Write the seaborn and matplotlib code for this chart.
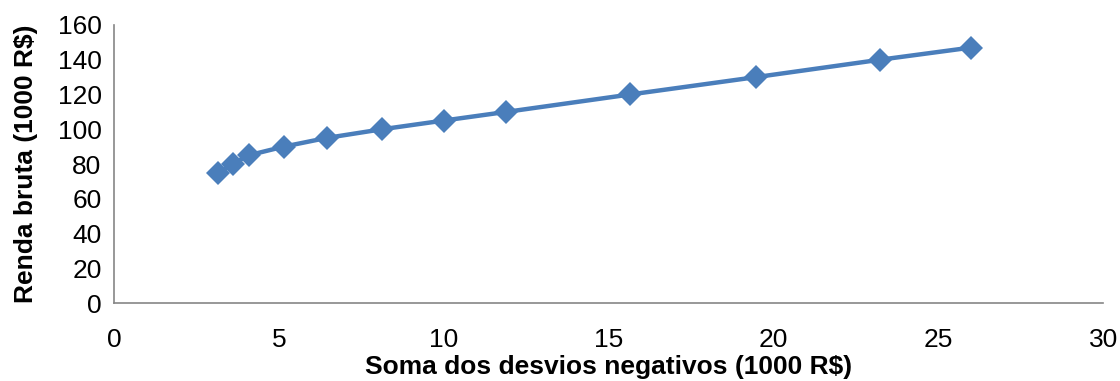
import matplotlib
matplotlib.use("Agg")
import matplotlib.pyplot as plt
import seaborn as sns
import pandas as pd

# Soma dos desvios negativos vs. renda bruta (1000 R$)
desvios = [3.16, 3.6, 4.08, 5.15, 6.45, 8.13, 10.0, 11.9, 15.65, 19.47, 23.23, 25.99]
renda = [75, 80, 85, 90, 95, 100, 105, 110, 120, 130, 140, 147]

xticks = [0, 5, 10, 15, 20, 25, 30]
yticks = [0, 20, 40, 60, 80, 100, 120, 140, 160]

df = pd.DataFrame({"desvios": desvios, "renda": renda})

sns.set_style("white")
plt.rcParams["font.family"] = ["Liberation Sans", "DejaVu Sans"]
plt.rcParams["text.color"] = "black"
plt.rcParams["axes.labelcolor"] = "black"

fig = plt.figure(figsize=(11.2, 3.81), dpi=100)
ax = fig.add_axes([0.1018, 0.2047, 0.8832, 0.7297])

sns.lineplot(data=df, x="desvios", y="renda", ax=ax, color="#4A7EBB",
             linewidth=3.2, marker="D", markersize=12.5, markeredgewidth=0,
             sort=False)

ax.set_xlim(0, 30)
ax.set_ylim(0, 160)
ax.set_xticks(xticks)
ax.set_yticks(yticks)
ax.tick_params(axis="both", labelsize=19, colors="#868686", labelcolor="black",
               direction="out", length=6, width=1.2)
ax.tick_params(axis="x", pad=12)
ax.tick_params(axis="y", pad=3)

for side in ["top", "right"]:
    ax.spines[side].set_visible(False)
for side in ["left", "bottom"]:
    ax.spines[side].set_color("#868686")
    ax.spines[side].set_linewidth(1.2)

ax.set_xlabel("Soma dos desvios negativos (1000 R$)", fontsize=19,
              fontweight="bold", labelpad=2, color="black")
ax.set_ylabel("Renda bruta (1000 R$)", fontsize=19, fontweight="bold",
              labelpad=14, color="black")

fig.savefig("out.png", dpi=100)
